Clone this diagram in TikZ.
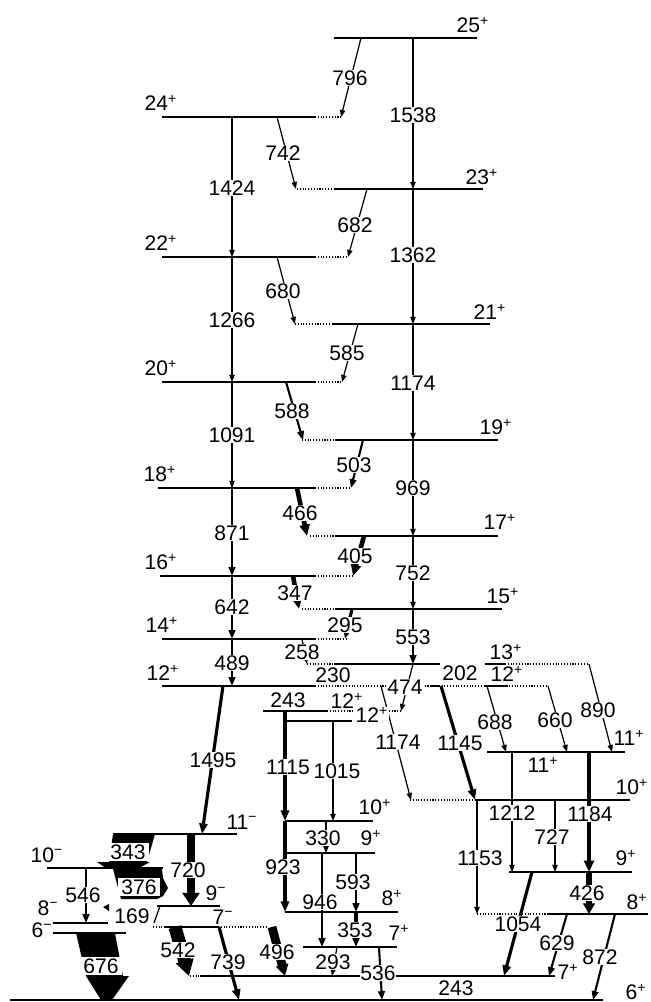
\documentclass[tikz,border=0pt]{standalone}
\usepackage{fontspec}
\setmainfont{Liberation Sans}
\usetikzlibrary{arrows.meta}
\newcommand{\pplus}{\textsuperscript{+}}
\newcommand{\pminus}{\textsuperscript{−}}
\tikzset{
  lev/.style={line width=0.65pt},
  levd/.style={line width=0.6pt, densely dotted},
  tr/.style={line width=0.7pt, -{Triangle[length=4pt,width=3pt]}},
  trm/.style={line width=1.2pt, -{Triangle[length=5pt,width=3.8pt]}},
  trb/.style={line width=1.8pt, -{Triangle[length=6pt,width=4.6pt]}},
  trh/.style={line width=2.6pt, -{Triangle[length=6.5pt,width=5.6pt]}},
  en/.style={fill=white, inner sep=0.3pt, font=\fontsize{12}{13}\selectfont},
  wide/.style={en, minimum width=0.86cm, minimum height=0.36cm},
  spin/.style={fill=white, inner sep=0.3pt, font=\fontsize{12}{13}\selectfont}
}
\begin{document}
\begin{tikzpicture}[x=0.02cm, y=-0.02cm]
  \useasboundingbox (0,0) rectangle (651,1002);
  % level heights
  \coordinate (L25) at (0,38);   \coordinate (L24) at (0,117);
  \coordinate (L23) at (0,189);  \coordinate (L22) at (0,257);
  \coordinate (L21) at (0,324);  \coordinate (L20) at (0,382);
  \coordinate (L19) at (0,440);  \coordinate (L18) at (0,488);
  \coordinate (L17) at (0,536);  \coordinate (L16) at (0,576);
  \coordinate (L15) at (0,609);  \coordinate (L14) at (0,639);
  \coordinate (L13) at (0,664);  \coordinate (L12) at (0,686);
  \coordinate (L12a) at (0,711); \coordinate (L12b) at (0,721);
  \coordinate (L11) at (0,752);  \coordinate (L10) at (0,800);
  \coordinate (M10) at (0,821);  \coordinate (M9) at (0,853);
  \coordinate (M8) at (0,912);   \coordinate (M7) at (0,947);
  \coordinate (R9) at (0,872);   \coordinate (R8) at (0,914);
  \coordinate (G7) at (0,976);   \coordinate (G6) at (0,1000);
  \coordinate (N11) at (0,834);  \coordinate (N10) at (0,868);
  \coordinate (N9) at (0,906);   \coordinate (N8) at (0,923);
  \coordinate (N7) at (0,927);   \coordinate (N6) at (0,933);

  % levels, even spins
  \draw[lev] (162,0 |- L24) -- (315,0 |- L24); \draw[levd] (315,0 |- L24) -- (342,0 |- L24);
  \draw[lev] (162,0 |- L22) -- (315,0 |- L22); \draw[levd] (315,0 |- L22) -- (348,0 |- L22);
  \draw[lev] (162,0 |- L20) -- (315,0 |- L20); \draw[levd] (315,0 |- L20) -- (342,0 |- L20);
  \draw[lev] (158,0 |- L18) -- (315,0 |- L18); \draw[levd] (315,0 |- L18) -- (350,0 |- L18);
  \draw[lev] (160,0 |- L16) -- (315,0 |- L16); \draw[levd] (315,0 |- L16) -- (353,0 |- L16);
  \draw[lev] (162,0 |- L14) -- (315,0 |- L14); \draw[levd] (315,0 |- L14) -- (347,0 |- L14);
  \draw[lev] (162,0 |- L12) -- (315,0 |- L12); \draw[levd] (315,0 |- L12) -- (548,0 |- L12);
  \draw[lev] (430,0 |- L12) -- (440,0 |- L12); \draw[lev] (485,0 |- L12) -- (508,0 |- L12);
  % levels, odd spins
  \draw[lev] (334,0 |- L25) -- (477,0 |- L25);
  \draw[levd] (297,0 |- L23) -- (335,0 |- L23); \draw[lev] (335,0 |- L23) -- (483,0 |- L23);
  \draw[levd] (295,0 |- L21) -- (333,0 |- L21); \draw[lev] (333,0 |- L21) -- (490,0 |- L21);
  \draw[levd] (302,0 |- L19) -- (335,0 |- L19); \draw[lev] (335,0 |- L19) -- (498,0 |- L19);
  \draw[levd] (310,0 |- L17) -- (335,0 |- L17); \draw[lev] (335,0 |- L17) -- (498,0 |- L17);
  \draw[levd] (302,0 |- L15) -- (335,0 |- L15); \draw[lev] (335,0 |- L15) -- (502,0 |- L15);
  \draw[levd] (307,0 |- L13) -- (334,0 |- L13); \draw[lev] (334,0 |- L13) -- (440,0 |- L13);
  \draw[lev] (485,0 |- L13) -- (505,0 |- L13); \draw[levd] (505,0 |- L13) -- (589,0 |- L13);
  % side bands
  \draw[lev] (263,0 |- L12a) -- (327,0 |- L12a); \draw[levd] (327,0 |- L12a) -- (402,0 |- L12a);
  \draw[lev] (286,0 |- L12b) -- (352,0 |- L12b);
  \draw[lev] (487,0 |- L11) -- (625,0 |- L11);
  \draw[levd] (410,0 |- L10) -- (475,0 |- L10); \draw[lev] (475,0 |- L10) -- (630,0 |- L10);
  \draw[lev] (285,0 |- M10) -- (373,0 |- M10);
  \draw[lev] (285,0 |- M9) -- (375,0 |- M9);
  \draw[lev] (285,0 |- M8) -- (398,0 |- M8);
  \draw[lev] (303,0 |- M7) -- (397,0 |- M7);
  \draw[lev] (509,0 |- R9) -- (632,0 |- R9);
  \draw[levd] (477,0 |- R8) -- (547,0 |- R8); \draw[lev] (547,0 |- R8) -- (648,0 |- R8);
  \draw[levd] (190,0 |- G7) -- (200,0 |- G7); \draw[lev] (200,0 |- G7) -- (555,0 |- G7);
  \draw[line width=1.6pt] (447,0 |- G7) -- (473,0 |- G7);
  \draw[lev] (10,0 |- G6) -- (603,0 |- G6);
  % negative parity
  \draw[lev] (113,0 |- N11) -- (237,0 |- N11);
  \draw[lev] (47,0 |- N10) -- (163,0 |- N10);
  \draw[lev] (157,0 |- N9) -- (220,0 |- N9);
  \draw[lev] (47,0 |- N8) -- (108,0 |- N8);
  \draw[levd] (153,0 |- N7) -- (165,0 |- N7); \draw[lev] (165,0 |- N7) -- (218,0 |- N7);
  \draw[levd] (218,0 |- N7) -- (268,0 |- N7);
  \draw[lev] (50,0 |- N6) -- (126,0 |- N6);

  % transitions
  \draw[tr] (361,0 |- L25) -- (341,0 |- L24);   % 796
  \draw[tr] (413,0 |- L25) -- (413,0 |- L23);   % 1538
  \draw[tr] (277,0 |- L24) -- (296,0 |- L23);   % 742
  \draw[tr] (232,0 |- L24) -- (232,0 |- L22);   % 1424
  \draw[tr] (367,0 |- L23) -- (348,0 |- L22);   % 682
  \draw[tr] (413,0 |- L23) -- (413,0 |- L21);   % 1362
  \draw[tr] (277,0 |- L22) -- (295,0 |- L21);   % 680
  \draw[tr] (232,0 |- L22) -- (232,0 |- L20);   % 1266
  \draw[tr] (358,0 |- L21) -- (342,0 |- L20);   % 585
  \draw[tr] (413,0 |- L21) -- (413,0 |- L19);   % 1174
  \draw[trm] (286,0 |- L20) -- (303,0 |- L19);  % 588
  \draw[tr] (232,0 |- L20) -- (232,0 |- L18);   % 1091
  \draw[trm] (363,0 |- L19) -- (351,0 |- L18);  % 503
  \draw[tr] (413,0 |- L19) -- (413,0 |- L17);   % 969
  \draw[trh] (297,0 |- L18) -- (307,0 |- L17);  % 466
  \draw[trm] (232,0 |- L18) -- (232,0 |- L16);  % 871
  \draw[trh] (364,0 |- L17) -- (353,0 |- L16);  % 405
  \draw[tr] (413,0 |- L17) -- (413,0 |- L15);   % 752
  \draw[trh] (293,0 |- L16) -- (299,0 |- L15);  % 347
  \draw[trm] (232,0 |- L16) -- (232,0 |- L14);  % 642
  \draw[trb] (352,0 |- L15) -- (345,0 |- L14);  % 295
  \draw[trm] (413,0 |- L15) -- (413,0 |- L13);  % 553
  \draw[tr] (302,0 |- L14) -- (307,0 |- L13);   % 258
  \draw[trm] (232,0 |- L14) -- (232,0 |- L12);  % 489
  \draw[tr] (413,0 |- L13) -- (401,0 |- L12a);  % 474
  \draw[trb] (223,0 |- L12) -- (202,0 |- N11);  % 1495
  \draw[tr] (381,0 |- L12) -- (411,0 |- L10);   % 1174
  \draw[trb] (441,0 |- L12) -- (475,0 |- L10);  % 1145
  \draw[tr] (487,0 |- L12) -- (506,0 |- L11);   % 688
  \draw[tr] (548,0 |- L12) -- (567,0 |- L11);   % 660
  \draw[tr] (589,0 |- L13) -- (612,0 |- L11);   % 890
  \draw[trb] (285,0 |- L12a) -- (285,0 |- M10); % 1115
  \draw[tr] (333,0 |- L12b) -- (333,0 |- M10);  % 1015
  \draw[tr] (512,0 |- L11) -- (512,0 |- R9);    % 1212
  \draw[trh] (589,0 |- L11) -- (589,0 |- R9);   % 1184
  \draw[tr] (555,0 |- L10) -- (555,0 |- R9);    % 727
  \draw[tr] (477,0 |- L10) -- (477,0 |- R8);    % 1153
  \draw[tr] (326,0 |- M10) -- (326,0 |- M9);    % 330
  \draw[trb] (285,0 |- M10) -- (285,0 |- M8);   % 923
  \draw[trm] (322,0 |- M9) -- (322,0 |- M7);    % 946
  \draw[trm] (356,0 |- M9) -- (356,0 |- M8);    % 593
  \draw[trb] (356,0 |- M8) -- (356,0 |- M7);    % 353
  \draw[tr] (337,0 |- M7) -- (332,0 |- G7);     % 293
  \draw[trm] (379,0 |- M7) -- (382,0 |- G6);    % 536
  \draw[line width=3.4pt, -{Triangle[length=6pt,width=6.5pt]}] (589,0 |- R9) -- (589,0 |- R8); % 426
  \draw[trb] (532,0 |- R9) -- (504,0 |- G7);    % 1054
  \draw[trm] (567,0 |- R8) -- (549,0 |- G7);    % 629
  \draw[trm] (615,0 |- R8) -- (593,0 |- G6);    % 872
  \draw[line width=4.5pt, -{Triangle[length=7.5pt,width=9.5pt]}] (191,0 |- N11) -- (191,0 |- N9); % 720
  \draw[trm] (86,0 |- N10) -- (86,0 |- N8);     % 546
  \draw[trb] (219,0 |- N7) -- (239,0 |- G6);    % 739
  \draw[line width=7.4pt, -{Triangle[length=9pt,width=10pt]}] (175,0 |- N7) -- (189,0 |- G7); % 542
  \draw[line width=5pt, -{Triangle[length=6.5pt,width=7pt]}] (272,0 |- N7) -- (285,0 |- G7);  % 496
  \draw[tr, -] (160,0 |- N9) -- (154,0 |- N8);  % 169
  \fill (103,907) -- (109,904) -- (109,911) -- cycle;
  % wide arrows
  \fill (76,933) -- (115,933) -- (123,976) -- (129,976) -- (112,1000) -- (101,1000) -- (86,976) -- cycle; % 676
  \fill (113,834) -- (155,834) -- (147,862) -- (150,862) -- (139,868) -- (106,868) -- (97,862) -- (109,862) -- cycle; % 343
  \fill (113,869) -- (162,869) -- (163,878) -- (168,888) -- (163,896) -- (157,899) -- (121,899) -- cycle; % 376

  % spins
  \node[spin] (s25) at (473,25) {25\pplus};
  \node[spin] (s24) at (161,103) {24\pplus};
  \node[spin] (s23) at (482,177) {23\pplus};
  \node[spin] (s22) at (161,243) {22\pplus};
  \node[spin] (s21) at (490,312) {21\pplus};
  \node[spin] (s20) at (161,368) {20\pplus};
  \node[spin] (s19) at (496,427) {19\pplus};
  \node[spin] (s18) at (160,474) {18\pplus};
  \node[spin] (s17) at (500,522) {17\pplus};
  \node[spin] (s16) at (161,562) {16\pplus};
  \node[spin] (s15) at (503,596) {15\pplus};
  \node[spin] (s14) at (162,625) {14\pplus};
  \node[spin] (s13) at (506,652) {13\pplus};
  \node[spin] (s12) at (163,673) {12\pplus};
  \node[spin] (s12r) at (507,674) {12\pplus};
  \node[spin] (s12a) at (347,701) {12\pplus};
  \node[spin] (s12b) at (372,715) {12\pplus};
  \node[spin] (s11) at (629,738) {11\pplus};
  \node[spin] (s11i) at (543,765) {11\pplus};
  \node[spin] (s10) at (632,787) {10\pplus};
  \node[spin] (s10m) at (375,807) {10\pplus};
  \node[spin] (s9m) at (371,838) {9\pplus};
  \node[spin] (s8m) at (392,898) {8\pplus};
  \node[spin] (s7m) at (399,933) {7\pplus};
  \node[spin] (s9r) at (626,858) {9\pplus};
  \node[spin] (s8r) at (637,902) {8\pplus};
  \node[spin] (s7) at (568,972) {7\pplus};
  \node[spin] (s6) at (636,992) {6\pplus};
  \node[spin] (n11) at (242,822) {11\pminus};
  \node[spin] (n10) at (47,855) {10\pminus};
  \node[spin] (n9) at (216,893) {9\pminus};
  \node[spin] (n8) at (48,908) {8\pminus};
  \node[spin] (n7) at (223,917) {7\pminus};
  \node[spin] (n6) at (42,930) {6\pminus};

  % energies
  \node[en] (e796) at (350,78) {796};
  \node[en] (e1538) at (413,115) {1538};
  \node[en] (e742) at (283,153) {742};
  \node[en] (e1424) at (232,188) {1424};
  \node[en] (e682) at (355,225) {682};
  \node[en] (e1362) at (413,255) {1362};
  \node[en] (e680) at (283,291) {680};
  \node[en] (e1266) at (232,320) {1266};
  \node[en] (e585) at (347,353) {585};
  \node[en] (e1174) at (413,383) {1174};
  \node[en] (e588) at (292,411) {588};
  \node[en] (e1091) at (232,435) {1091};
  \node[en] (e503) at (354,465) {503};
  \node[en] (e969) at (413,488) {969};
  \node[en] (e466) at (300,513) {466};
  \node[en] (e871) at (232,533) {871};
  \node[en] (e405) at (355,556) {405};
  \node[en] (e752) at (413,573) {752};
  \node[en] (e347) at (295,593) {347};
  \node[en] (e642) at (232,607) {642};
  \node[en] (e295) at (345,625) {295};
  \node[en] (e553) at (413,637) {553};
  \node[en] (e258) at (302,652) {258};
  \node[en] (e489) at (232,663) {489};
  \node[en] (e230) at (333,675) {230};
  \node[en] (e202) at (460,673) {202};
  \node[en] (e474) at (405,687) {474};
  \node[en] (e243a) at (288,700) {243};
  \node[en] (e688) at (495,722) {688};
  \node[en] (e660) at (555,720) {660};
  \node[en] (e890) at (598,710) {890};
  \node[en] (e1174b) at (398,742) {1174};
  \node[en] (e1145) at (460,743) {1145};
  \node[en] (e1495) at (213,760) {1495};
  \node[en] (e1115) at (288,767) {1115};
  \node[en] (e1015) at (337,771) {1015};
  \node[en] (e1212) at (512,813) {1212};
  \node[en] (e1184) at (590,814) {1184};
  \node[en] (e727) at (552,837) {727};
  \node[en] (e330) at (323,838) {330};
  \node[en] (e1153) at (480,858) {1153};
  \node[en] (e923) at (283,867) {923};
  \node[en] (e593) at (353,882) {593};
  \node[en] (e426) at (587,893) {426};
  \node[en] (e946) at (320,902) {946};
  \node[en] (e1054) at (518,924) {1054};
  \node[en] (e353) at (355,930) {353};
  \node[en] (e629) at (557,943) {629};
  \node[en] (e872) at (600,957) {872};
  \node[en] (e293) at (333,962) {293};
  \node[en] (e536) at (378,973) {536};
  \node[en] (e243b) at (456,988) {243};
  \node[wide] (e343) at (128,852) {343};
  \node[wide] (e376) at (139,887) {376};
  \node[en] (e720) at (188,870) {720};
  \node[en] (e546) at (83,895) {546};
  \node[en] (e169) at (132,916) {169};
  \node[wide] (e676) at (101,966) {676};
  \node[en] (e542) at (178,950) {542};
  \node[en] (e739) at (228,962) {739};
  \node[en] (e496) at (277,952) {496};
\end{tikzpicture}
\end{document}
